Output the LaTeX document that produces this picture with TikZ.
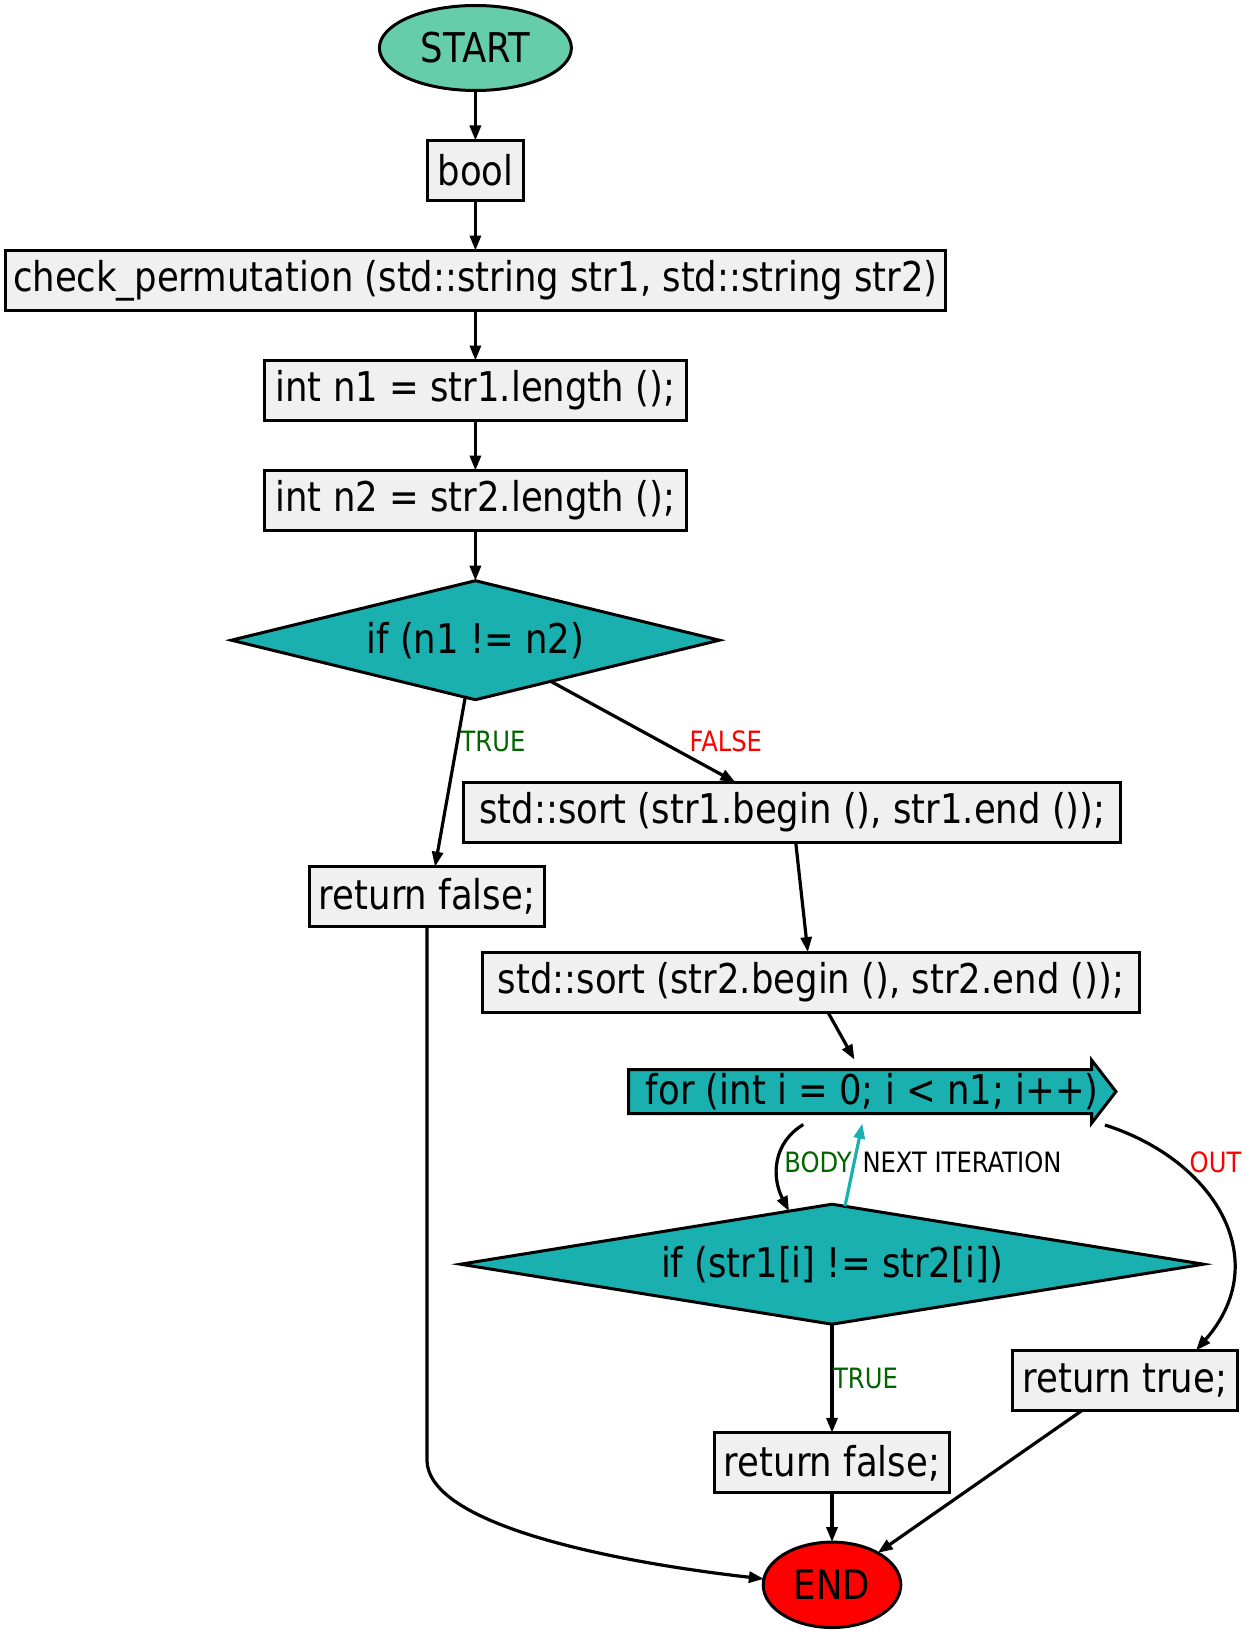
\documentclass[tikz,border=0pt]{standalone}
\usepackage{fontspec}
\setmainfont[FakeStretch=0.865]{DejaVu Sans}
\usetikzlibrary{shapes.geometric,arrows.meta,calc,backgrounds}

\definecolor{boxfill}{RGB}{240,240,240}
\definecolor{startfill}{RGB}{102,205,170}
\definecolor{condfill}{RGB}{26,176,176}
\definecolor{truegreen}{RGB}{0,100,0}
\definecolor{falsered}{RGB}{255,0,0}

\tikzset{
  bigtext/.style={font=\fontsize{41}{49}\selectfont},
  stmt/.style={rectangle, draw, line width=3pt, fill=boxfill, minimum height=60pt,
    inner sep=0pt, outer sep=0pt, bigtext},
  cond/.style={diamond, draw, line width=3pt, fill=condfill, inner sep=0pt,
    outer sep=0pt, bigtext},
  term/.style={ellipse, draw, line width=3pt, inner sep=0pt, outer sep=0pt, bigtext},
  flow/.style={line width=3.2pt, -{Triangle[length=15pt,width=11pt]}},
  lbl/.style={font=\fontsize{28}{33}\selectfont, inner sep=0pt}
}

\begin{document}
\begin{tikzpicture}[x=1pt,y=-1pt]
\useasboundingbox (0,0) rectangle (1247,1635);

% nodes
\node[term, fill=startfill, minimum width=192pt, minimum height=85pt] (start) at (475.4,48) {START};
\node[stmt, minimum width=96pt] (ret) at (475.4,170.5) {bool};
\node[stmt, minimum width=940pt] (func) at (475.4,280.5) {check\_permutation (std::string str1, std::string str2)};
\node[stmt, minimum width=422pt] (n1) at (475.4,390.5) {int n1 = str1.length ();};
\node[stmt, minimum width=422pt] (n2) at (475.4,500.5) {int n2 = str2.length ();};
\node[cond, aspect=4.1, minimum width=488pt, minimum height=119pt] (d1) at (475.4,640.2) {if (n1 != n2)};
\node[stmt, minimum width=234.5pt] (rf1) at (427,896.7) {return false;};
\node[stmt, minimum width=657pt] (sort1) at (792.4,812.2) {std::sort (str1.begin (), str1.end ());};
\node[stmt, minimum width=657pt] (sort2) at (811.1,982.1) {std::sort (str2.begin (), str2.end ());};
\node[rectangle, inner sep=0pt, outer sep=0pt, minimum width=487.3pt, minimum height=63.9pt, bigtext] (loop) at (872.3,1091.6) {for (int i = 0; i < n1; i++)};
\node[cond, aspect=6.2, minimum width=743pt, minimum height=120pt] (d2) at (832,1264.2) {if (str1[i] != str2[i])};
\node[stmt, minimum width=225pt] (rt) at (1125,1380.4) {return true;};
\node[stmt, minimum width=234.5pt] (rf2) at (832,1462.8) {return false;};
\node[term, fill=falsered, minimum width=137.6pt, minimum height=85.4pt] (stop) at (832,1584.8) {END};

% loop header outline (arrow-shaped box)
\begin{scope}[on background layer]
\draw[line width=3pt, fill=condfill, line join=miter]
  ($(loop.west)+(0,-21.9)$) -- ($(loop.east)+(-24.4,-21.9)$) -- ($(loop.east)+(-24.4,-31.6)$)
  -- (loop.east) -- ($(loop.east)+(-24.4,31.6)$) -- ($(loop.east)+(-24.4,21.9)$)
  -- ($(loop.west)+(0,21.9)$) -- cycle;
\end{scope}

% connectors
\draw[flow] (start) -- (ret);
\draw[flow] (ret) -- (func);
\draw[flow] (func) -- (n1);
\draw[flow] (n1) -- (n2);
\draw[flow] (n2) -- (d1);
\draw[flow] (d1) -- ([xshift=8pt]rf1.north);
\draw[flow] (d1) -- ([xshift=-57pt]sort1.north);
\draw[flow] (sort1) -- (sort2);
\draw[flow] (sort2) -- (loop);
\draw[flow] ($(loop.south)+(-69,1)$) .. controls +(-30,18) and +(-18,-35) .. ($(d2.north)+(-43,7)$);
\draw[flow, condfill] ($(d2.north)+(13,2)$) -- ($(loop.south)+(-10,0)$);
\draw[flow] ($(loop.east)+(-11,33.4)$) .. controls +(110,35) and +(79,-90) .. ($(rt.north)+(71,0)$);
\draw[flow] (d2) -- (rf2);
\draw[flow] (rf2) -- (stop);
\draw[flow] (rt) -- (stop);
\draw[flow] (rf1.south) -- ++(0,533) .. controls +(0,70) and +(-123.5,-13.8) .. (stop.175);

% connector labels
\node[lbl, text=truegreen] (t1) at (493,741.3) {TRUE};
\node[lbl, text=falsered] (f1) at (725.8,741.3) {FALSE};
\node[lbl, text=truegreen] (body) at (818,1162.5) {BODY};
\node[lbl] (next) at (962,1162.5) {NEXT ITERATION};
\node[lbl, text=falsered] (out) at (1215.5,1162.5) {OUT};
\node[lbl, text=truegreen] (t2) at (865.5,1378) {TRUE};
\end{tikzpicture}
\end{document}
